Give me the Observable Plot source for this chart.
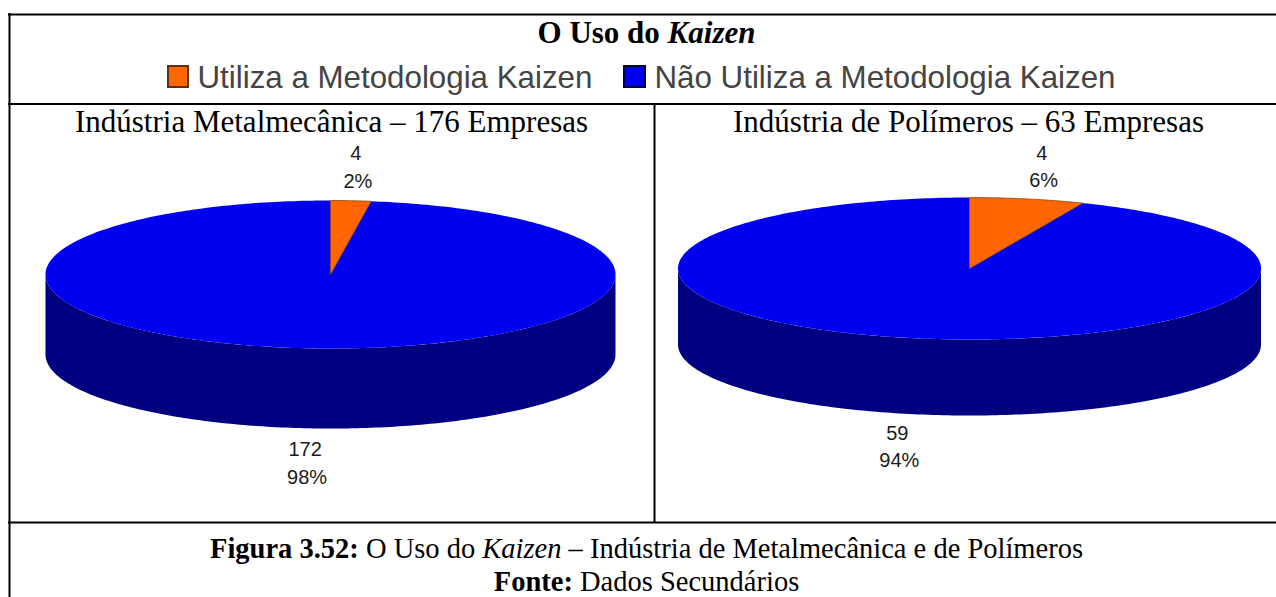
<!DOCTYPE html>
<html>
<head>
<meta charset="utf-8">
<style>html,body{margin:0;padding:0;background:#fff;overflow:hidden}</style>
<script src="https://cdn.jsdelivr.net/npm/d3@7"></script>
<script src="https://cdn.jsdelivr.net/npm/@observablehq/plot@0.6"></script>
</head>
<body>
<script>
// ---- data ----
const categories = ["Utiliza a Metodologia Kaizen", "Não Utiliza a Metodologia Kaizen"];
const colors = ["#FF6600", "#0000F0"];
const swatchEdges = ["#5a3018", "#000050"];
const sideColor = "#000080";
const panelTitles = ["Indústria Metalmecânica – 176 Empresas", "Indústria de Polímeros – 63 Empresas"];
const metalValues = [4, 172];
const metalPercents = ["2%", "98%"];
const polymerValues = [4, 59];
const polymerPercents = ["6%", "94%"];
const titleRuns = [["O Uso do ", "bold", "normal"], ["Kaizen", "bold", "italic"]];
const figureRuns = [["Figura 3.52: ", "bold", "normal"], ["O Uso do ", "normal", "normal"], ["Kaizen", "normal", "italic"], [" – Indústria de Metalmecânica e de Polímeros", "normal", "normal"]];
const sourceRuns = [["Fonte: ", "bold", "normal"], ["Dados Secundários", "normal", "normal"]];

// ---- layout (pie geometry in the page's frame) ----
const W = 1276, H = 597;
const pies = [
  {cx: 330, cy: 274, rx: 285, ry: 74, depth: 80, values: metalValues, percents: metalPercents, titleX: 331,
   topY: [153, 181], botY: [449, 477]},
  {cx: 969, cy: 268, rx: 291.5, ry: 71, depth: 76, values: polymerValues, percents: polymerPercents, titleX: 968,
   topY: [153, 180], botY: [433, 460]}
];
const serif = "Liberation Serif", sans = "Liberation Sans";
const ctx = document.createElement("canvas").getContext("2d");
function runsToPieces(runs, center, y, size) {
  const w = runs.map(([t, wt, st]) => { ctx.font = `${st} ${wt} ${size}px "${serif}"`; return ctx.measureText(t).width; });
  let x = center - d3.sum(w) / 2;
  return runs.map(([text, weight, style], i) => { const p = {text, weight, style, x, y, size}; x += w[i]; return p; });
}
const runMark = (pieces) => d3.groups(pieces, d => d.weight + d.style + d.size).map(([, g]) =>
  Plot.text(g, {x: "x", y: "y", text: "text", textAnchor: "start", fontFamily: serif, fontSize: g[0].size,
    fontWeight: g[0].weight, fontStyle: g[0].style, fill: "#000"}));

// slices of a 3-D pie: angles come from the values
function ellipsePoints(p, a0, a1, dy = 0) {
  const n = Math.max(2, Math.ceil((a1 - a0) * 60));
  return d3.range(n + 1).map(i => {
    const a = a0 + (a1 - a0) * i / n;
    return [p.cx + p.rx * Math.sin(a), p.cy + p.ry * -Math.cos(a) + dy];
  });
}
const polys = [], sides = [];
pies.forEach((p, k) => {
  const total = d3.sum(p.values);
  const a = 2 * Math.PI * p.values[0] / total;
  p.a = a;
  // side wall: lower half of the rim, extruded
  const rim = ellipsePoints(p, Math.PI / 2, 3 * Math.PI / 2);
  const low = ellipsePoints(p, Math.PI / 2, 3 * Math.PI / 2, p.depth).reverse();
  [...rim, ...low].forEach(([x, y]) => sides.push({x, y, id: k}));
  // blue slice, then orange
  [...ellipsePoints(p, a, 2 * Math.PI), [p.cx, p.cy]].forEach(([x, y]) => polys.push({x, y, id: k + "b", c: categories[1]}));
  [[p.cx, p.cy], ...ellipsePoints(p, 0, a), [p.cx, p.cy]].forEach(([x, y]) => polys.push({x, y, id: k + "o", c: categories[0]}));
});
const labels = pies.flatMap(p => {
  const lx = mid => p.cx + 1.25 * p.rx * Math.sin(mid);
  const m0 = p.a / 2, m1 = Math.PI + p.a / 2;
  return [
    {x: lx(m0), y: p.topY[0], t: String(p.values[0])},
    {x: lx(m0) + 2, y: p.topY[1], t: p.percents[0]},
    {x: lx(m1), y: p.botY[0], t: String(p.values[1])},
    {x: lx(m1) + 2, y: p.botY[1], t: p.percents[1]}
  ];
});
const panelText = pies.map((p, i) => ({x: p.titleX, y: 122, t: panelTitles[i]}));
const legend = categories.map((c, i) => ({c, edge: swatchEdges[i], x0: [168, 624][i], x1: [188, 645][i], tx: [197, 654][i]}));

const border = "#000";
const chart = Plot.plot({
  width: W, height: H, margin: 0,
  x: {domain: [0, W], range: [0, W], axis: null},
  y: {domain: [0, H], range: [0, H], axis: null},
  color: {domain: categories, range: colors},
  style: {background: "#fff"},
  marks: [
    Plot.ruleY([14, 103.5, 522], {x1: 8, x2: W, stroke: border, strokeWidth: 2}),
    Plot.ruleX([9], {y1: 13, y2: H, stroke: border, strokeWidth: 2}),
    Plot.ruleX([654], {y1: 103.5, y2: 522, stroke: border, strokeWidth: 2}),
    ...runMark(runsToPieces(titleRuns, 646, 33, 31)),
    Plot.rect(legend, {x1: "x0", x2: "x1", y1: 66, y2: 87, fill: "c", stroke: "edge", strokeWidth: 2}),
    Plot.text(legend, {x: "tx", y: 77, text: "c", textAnchor: "start", fontFamily: sans, fontSize: 31.3, fill: "#444"}),
    Plot.text(panelText, {x: "x", y: "y", text: "t", fontFamily: serif, fontSize: 31, fill: "#000"}),
    Plot.line(sides, {x: "x", y: "y", z: "id", fill: sideColor, stroke: null, curve: "linear-closed"}),
    ...pies.map((p, k) => Plot.line(polys.filter(d => d.id === k + "b"), {x: "x", y: "y", fill: "c", stroke: null, curve: "linear-closed"})),
    ...pies.map((p, k) => Plot.line(polys.filter(d => d.id === k + "o"), {x: "x", y: "y", fill: "c", stroke: "#7a3a10", strokeWidth: 0.7, curve: "linear-closed"})),
    Plot.text(labels, {x: "x", y: "y", text: "t", fontFamily: sans, fontSize: 20, fill: "#1a1a1a"}),
    ...runMark(runsToPieces(figureRuns, 646, 548, 28.5)),
    ...runMark(runsToPieces(sourceRuns, 646, 581, 28.5))
  ]
});
document.body.appendChild(chart);
</script>
</body>
</html>
